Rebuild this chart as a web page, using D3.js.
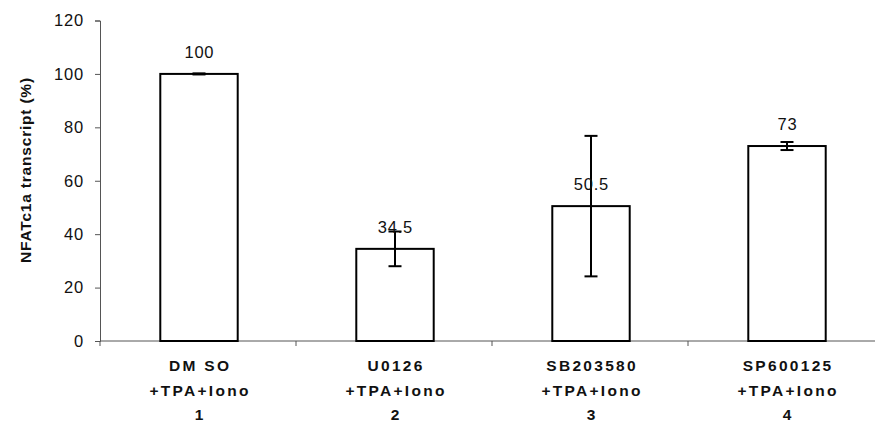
<!DOCTYPE html>
<html>
<head>
<meta charset="utf-8">
<script src="https://cdn.jsdelivr.net/npm/d3@7"></script>
<style>
  html, body { margin: 0; padding: 0; background: #fff; }
  svg { display: block; }
</style>
</head>
<body>
<svg id="chart" width="875" height="423"></svg>
<script>
// Treatment groups: inhibitor line, stimulus line, lane number
const inhibitors = ["DM SO", "U0126", "SB203580", "SP600125"];
const stimulus = ["+TPA+Iono", "+TPA+Iono", "+TPA+Iono", "+TPA+Iono"];
const lanes = ["1", "2", "3", "4"];
// Relative NFATc1a transcript (%) and error half-widths
const values = [100, 34.5, 50.5, 73];
const errors = [0.2, 6.5, 26.3, 1.5];
const yTicks = [0, 20, 40, 60, 80, 100, 120];

const svg = d3.select("#chart");
const margin = { left: 100, right: -9, top: 20.5, bottom: 82 };
const W = 875, H = 423;

const x = d3.scaleBand()
  .domain(d3.range(values.length))
  .range([margin.left, W - margin.right])
  .paddingInner(0).paddingOuter(0);

const y = d3.scaleLinear()
  .domain([0, 120])
  .range([H - margin.bottom, margin.top]);

const axisColor = "#555";
const font = "Arial, 'Liberation Sans', sans-serif";

// Y axis
const yAxis = svg.append("g")
  .attr("transform", `translate(${margin.left},0)`)
  .call(d3.axisLeft(y).tickValues(yTicks).tickSize(5).tickPadding(11).tickFormat(d3.format("d")));
yAxis.select(".domain").attr("stroke", axisColor).attr("stroke-width", 1);
yAxis.selectAll(".tick line").attr("stroke", axisColor);
yAxis.selectAll(".tick text")
  .attr("font-family", font).attr("font-size", 16.5)
  .attr("letter-spacing", "0.8px").attr("fill", "#111");

// X axis: baseline with ticks at group boundaries
const x0 = y(0);
svg.append("line")
  .attr("x1", margin.left).attr("x2", W - margin.right)
  .attr("y1", x0).attr("y2", x0)
  .attr("stroke", axisColor).attr("stroke-width", 1);
svg.selectAll(".xtick")
  .data(d3.range(values.length + 1))
  .join("line")
  .attr("class", "xtick")
  .attr("x1", i => margin.left + i * x.bandwidth())
  .attr("x2", i => margin.left + i * x.bandwidth())
  .attr("y1", x0).attr("y2", x0 + 5)
  .attr("stroke", axisColor);

// Bars
const barW = x.bandwidth() * 0.395;
const cx = i => x(i) + x.bandwidth() / 2 + 1;
svg.selectAll(".bar")
  .data(values)
  .join("rect")
  .attr("class", "bar")
  .attr("x", (d, i) => cx(i) - barW / 2)
  .attr("y", d => y(d))
  .attr("width", barW)
  .attr("height", d => y(0) - y(d))
  .attr("fill", "#fff")
  .attr("stroke", "#000")
  .attr("stroke-width", 2);

// Error bars
const capW = 13;
const eb = svg.selectAll(".err").data(values).join("g").attr("class", "err")
  .attr("stroke", "#000").attr("stroke-width", 2);
eb.append("line")
  .attr("x1", (d, i) => cx(i)).attr("x2", (d, i) => cx(i))
  .attr("y1", (d, i) => y(d + errors[i])).attr("y2", (d, i) => y(d - errors[i]));
eb.append("line")
  .attr("x1", (d, i) => cx(i) - capW / 2).attr("x2", (d, i) => cx(i) + capW / 2)
  .attr("y1", (d, i) => y(d + errors[i])).attr("y2", (d, i) => y(d + errors[i]));
eb.append("line")
  .attr("x1", (d, i) => cx(i) - capW / 2).attr("x2", (d, i) => cx(i) + capW / 2)
  .attr("y1", (d, i) => y(d - errors[i])).attr("y2", (d, i) => y(d - errors[i]));

// Value labels
svg.selectAll(".val")
  .data(values)
  .join("text")
  .attr("class", "val")
  .attr("x", (d, i) => cx(i) + 0.4)
  .attr("y", d => y(d) - 16)
  .attr("text-anchor", "middle")
  .attr("font-family", font).attr("font-size", 16.5)
  .attr("letter-spacing", "0.8px").attr("fill", "#111")
  .text(d => d);

// Category labels (three lines each)
const cat = svg.selectAll(".cat")
  .data(values)
  .join("text")
  .attr("class", "cat")
  .attr("text-anchor", "middle")
  .attr("font-family", font).attr("font-size", 15.5).attr("font-weight", "bold")
  .attr("letter-spacing", "2.3px")
  .attr("fill", "#111");
[inhibitors, stimulus, lanes].forEach((arr, li) => {
  cat.append("tspan")
    .attr("x", (d, i) => cx(i) + 1.1)
    .attr("y", x0 + 30 + li * 24.5)
    .text((d, i) => arr[i]);
});

// Y axis title
svg.append("text")
  .attr("transform", `translate(31,170) rotate(-90)`)
  .attr("text-anchor", "middle")
  .attr("font-family", font).attr("font-size", 15.5).attr("font-weight", "bold")
  .attr("letter-spacing", "0.8px")
  .attr("fill", "#111")
  .text("NFATc1a transcript (%)");
</script>
</body>
</html>
